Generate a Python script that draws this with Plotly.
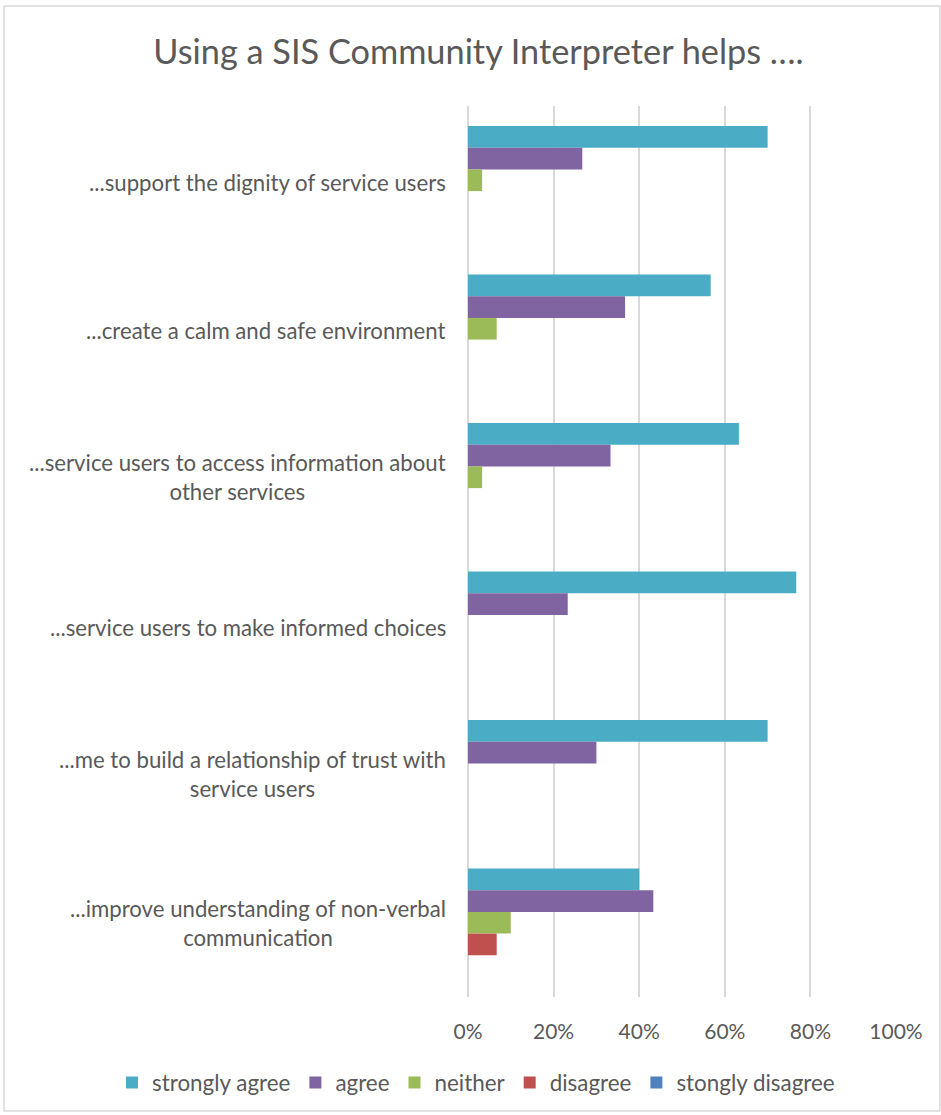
import plotly.graph_objects as go

# Survey statements (top to bottom) and response shares per answer
statements = [
    "...support the dignity of service users",
    "...create a calm and safe environment",
    "...service users to access information about<br>other services",
    "...service users to make informed choices",
    "...me to build a relationship of trust with<br>service users",
    "...improve understanding of non-verbal<br>communication",
]
strongly_agree = [0.700, 0.567, 0.633, 0.767, 0.700, 0.400]
agree = [0.267, 0.367, 0.333, 0.233, 0.300, 0.433]
neither = [0.033, 0.067, 0.033, 0.0, 0.0, 0.100]
disagree = [0.0, 0.0, 0.0, 0.0, 0.0, 0.067]
strongly_disagree = [0.0, 0.0, 0.0, 0.0, 0.0, 0.0]

series_names = ["strongly agree", "agree", "neither", "disagree", "stongly disagree"]
series_values = [strongly_agree, agree, neither, disagree, strongly_disagree]
series_colors = ["#4BACC6", "#8064A2", "#9BBB59", "#C0504D", "#4F81BD"]

FONT = "Lato, Open Sans, sans-serif"
TEXT = "#595959"

W, H = 941, 1115
L, R, T, B = 468, 45, 106, 118
pw, ph = W - L - R, H - T - B

fig = go.Figure()
cat_ids = list(range(len(statements)))
for name, vals, col in zip(series_names, series_values, series_colors):
    fig.add_trace(go.Bar(
        y=cat_ids, x=vals, orientation="h", name=name,
        marker=dict(color=col, line=dict(width=0)),
        hoverinfo="x+name",
    ))

# Category labels, centred lines to the left of the plot area
for i, s in enumerate(statements):
    fig.add_annotation(
        xref="paper", yref="y", x=0, y=i, text=s, showarrow=False,
        xanchor="right", yanchor="middle", align="center", xshift=-20,
        yshift=-2 if "<br>" not in s else 0,
        font=dict(family=FONT, size=22.2, color=TEXT),
    )

# Outer chart frame
def px_x(v):
    return (v - L) / pw

def px_y(v):
    return (H - B - v) / ph

fig.add_shape(type="rect", xref="paper", yref="paper",
              x0=px_x(4), x1=px_x(940), y0=px_y(1111), y1=px_y(6),
              line=dict(color="#D9D9D9", width=1.5), fillcolor="rgba(0,0,0,0)",
              layer="below")

fig.update_layout(
    width=W, height=H,
    margin=dict(l=L, r=R, t=T, b=B, autoexpand=False),
    paper_bgcolor="white", plot_bgcolor="white",
    barmode="group", bargap=0.27, bargroupgap=0,
    title=dict(text="Using a SIS Community Interpreter helps ….",
               xref="container", yref="container",
               x=478.5 / W, y=1 - 52 / H, xanchor="center", yanchor="middle",
               font=dict(family=FONT, size=34.3, color=TEXT)),
    xaxis=dict(range=[0, 1], tickvals=[0, 0.2, 0.4, 0.6, 0.8, 1.0],
               tickformat=".0%", showgrid=True, gridcolor="#D9D9D9", gridwidth=1.6,
               zeroline=True, zerolinecolor="#D9D9D9", zerolinewidth=1.6,
               showline=False, ticks="", ticklabelstandoff=20,
               tickfont=dict(family=FONT, size=21, color=TEXT), fixedrange=True),
    yaxis=dict(range=[len(statements) - 0.5, -0.5], showticklabels=False,
               showgrid=False, zeroline=False, showline=False, ticks="",
               fixedrange=True),
    legend=dict(orientation="h", xref="paper", yref="paper",
                x=px_x(112), xanchor="left",
                y=px_y(1083), yanchor="middle",
                font=dict(family=FONT, size=22.4, color=TEXT),
                traceorder="normal", itemwidth=30),
    showlegend=True,
)

fig.write_html("out.html")
